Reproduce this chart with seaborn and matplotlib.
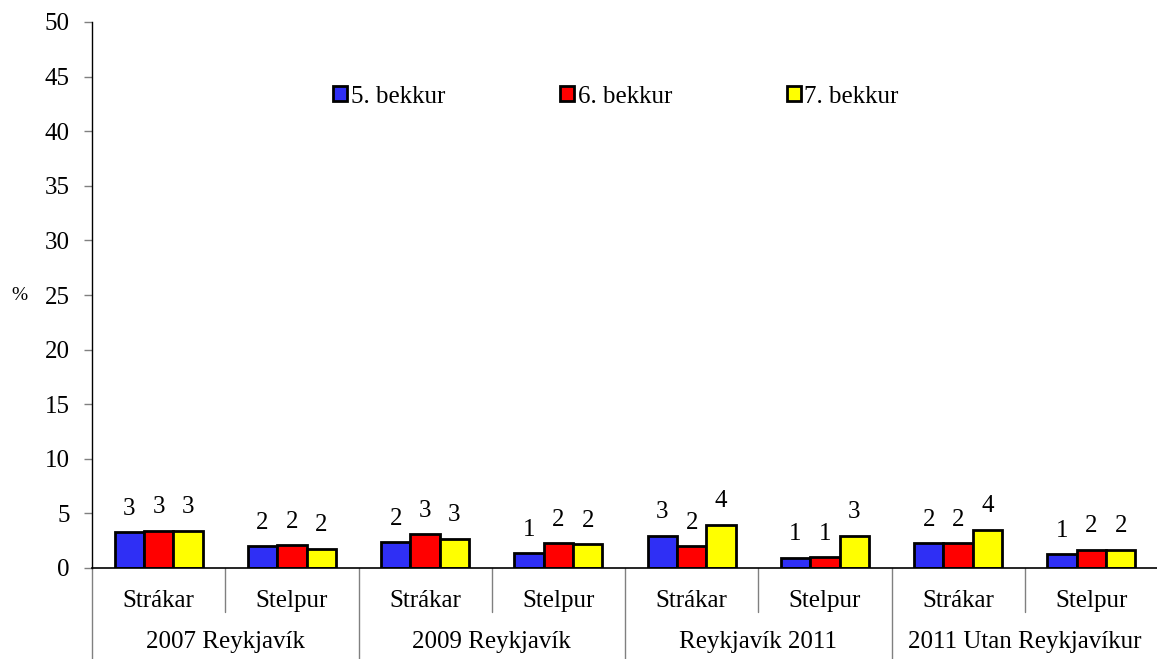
import matplotlib
matplotlib.use("Agg")
import matplotlib.pyplot as plt
import seaborn as sns
import pandas as pd
import numpy as np

groups = ["2007 Reykjavík", "2009 Reykjavík", "Reykjavík 2011", "2011 Utan Reykjavíkur"]
genders = ["Strákar", "Stelpur"]
series = ["5. bekkur", "6. bekkur", "7. bekkur"]
vals_5 = [3.26, 1.98, 2.38, 1.34, 2.96, 0.92, 2.26, 1.28]
vals_6 = [3.42, 2.07, 3.08, 2.25, 1.98, 0.98, 2.26, 1.65]
vals_7 = [3.42, 1.77, 2.68, 2.16, 3.97, 2.96, 3.48, 1.65]
labels_5 = ["3", "2", "2", "1", "3", "1", "2", "1"]
labels_6 = ["3", "2", "3", "2", "2", "1", "2", "2"]
labels_7 = ["3", "2", "3", "2", "4", "3", "4", "2"]
colors = ["#2F2FF5", "#FF0000", "#FFFF00"]

sns.set_theme(style="white")
plt.rcParams["font.family"] = ["Liberation Serif", "DejaVu Serif"]
plt.rcParams["text.color"] = "black"
plt.rcParams["axes.labelcolor"] = "black"
plt.rcParams["ytick.labelcolor"] = "black"

FS = 18

slots = [f"{g}|{s}" for g in groups for s in genders]
rows = []
for name, vals in zip(series, [vals_5, vals_6, vals_7]):
    for slot, v in zip(slots, vals):
        rows.append({"slot": slot, "bekkur": name, "value": v})
df = pd.DataFrame(rows)

fig = plt.figure(figsize=(11.57, 6.59), dpi=100)
ax = fig.add_axes([92 / 1157, 1 - 568 / 659, 1066 / 1157, 546 / 659])
sns.barplot(data=df, x="slot", y="value", hue="bekkur", order=slots,
            hue_order=series, palette=colors, width=0.66, ax=ax,
            edgecolor="black", linewidth=2, saturation=1, legend=True)

for cont, labs in zip(ax.containers, [labels_5, labels_6, labels_7]):
    ax.bar_label(cont, labels=labs, padding=9, fontsize=FS, color="black")

ax.set_ylim(0, 50)
ax.set_xlim(-0.5, len(slots) - 0.5)
ax.set_yticks(np.arange(0, 51, 5))
ax.tick_params(axis="y", labelsize=FS, length=6, width=1, color="#808080",
               left=True, pad=10, labelcolor="black")
ax.set_xticks([])
ax.set_xlabel("")
ax.set_ylabel("%", rotation=0, fontsize=14, labelpad=18, va="center", color="black")
for sp in ["top", "right"]:
    ax.spines[sp].set_visible(False)
ax.spines["left"].set_color("black")
ax.spines["bottom"].set_color("black")
ax.spines["left"].set_linewidth(1)
ax.spines["bottom"].set_linewidth(1.2)

tr = ax.get_xaxis_transform()
for i in range(len(slots) + 1):
    x = i - 0.5
    bottom = -0.17 if i % 2 == 0 else -0.08
    ax.plot([x, x], [0, bottom], transform=tr, color="#808080", lw=1, clip_on=False)
for i, s in enumerate(slots):
    ax.text(i, -0.061, s.split("|")[1], transform=tr, ha="center", va="center", fontsize=FS)
for j, g in enumerate(groups):
    ax.text(2 * j + 0.5, -0.135, g, transform=tr, ha="center", va="center", fontsize=FS)

handles, labs = ax.get_legend_handles_labels()
ax.legend(handles, labs, loc="center", bbox_to_anchor=(0.4915, 0.863),
          ncol=3, frameon=False, fontsize=FS, handlelength=0.55, handleheight=0.55,
          handletextpad=0.15, columnspacing=4.6)

fig.savefig("out.png", dpi=100)
